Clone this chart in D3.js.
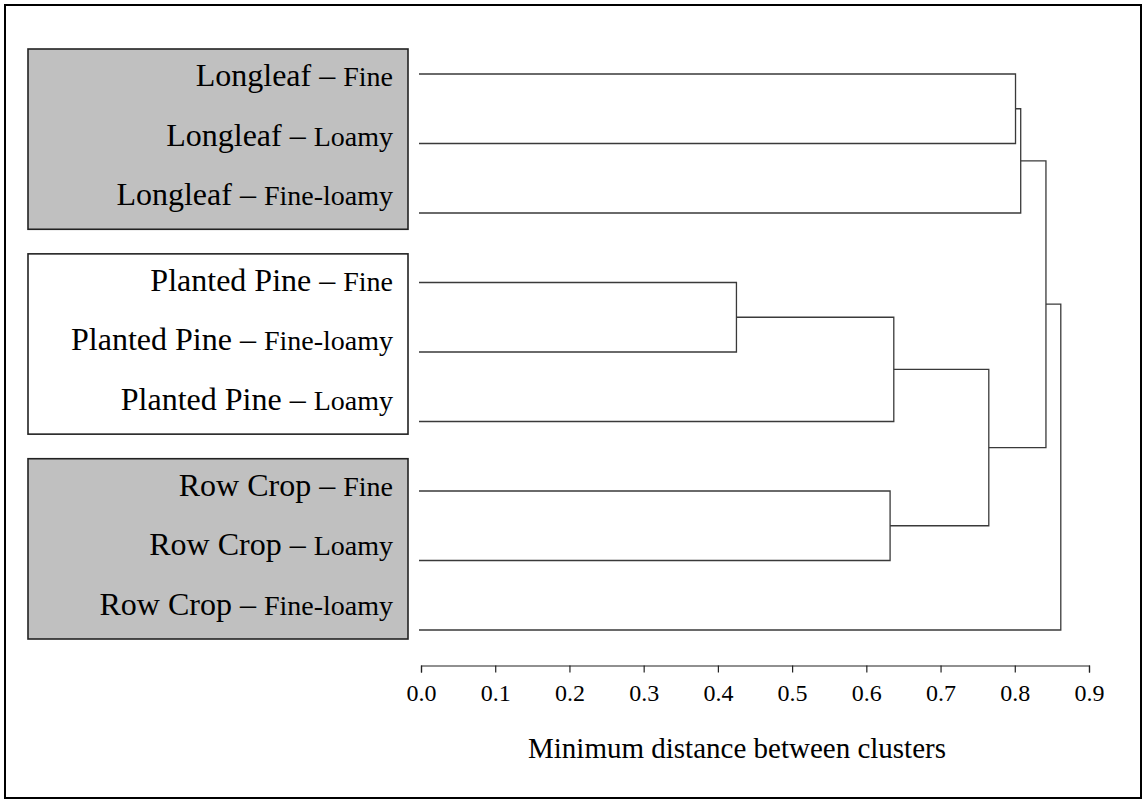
<!DOCTYPE html>
<html>
<head>
<meta charset="utf-8">
<script src="https://cdn.jsdelivr.net/npm/d3@7"></script>
<style>
	body { margin: 0; background: #fff; }
	text { font-family: "Liberation Serif", "Times New Roman", serif; fill: #000; }
</style>
</head>
<body>
<svg id="chart" width="1146" height="803"></svg>
<script>

// leaves, top to bottom
var leafLandUse = ["Longleaf", "Longleaf", "Longleaf",
	"Planted Pine", "Planted Pine", "Planted Pine",
	"Row Crop", "Row Crop", "Row Crop"];
var leafSoil = ["Fine", "Loamy", "Fine-loamy",
	"Fine", "Fine-loamy", "Loamy",
	"Fine", "Loamy", "Fine-loamy"];

// merges: node ids 0-8 are leaves, merge i gets id 9 + i
var mergeA = [0, 9, 3, 11, 6, 12, 10, 15];
var mergeB = [1, 2, 4, 5, 7, 13, 14, 8];
var mergeHeight = [0.801, 0.808, 0.425, 0.637, 0.632, 0.765, 0.842, 0.862];

var groups = ["Longleaf", "Planted Pine", "Row Crop"];
var groupShaded = [true, false, true];

var tickValues = [0, 0.1, 0.2, 0.3, 0.4, 0.5, 0.6, 0.7, 0.8, 0.9];
var axisTitle = "Minimum distance between clusters";

function makeChart() {
	var svg = d3.select("#chart");

	var x = d3.scaleLinear().domain([0, 0.9]).range([421, 1089]);
	var y = d3.scalePoint().domain(d3.range(leafSoil.length)).range([74, 630]);
	var box = d3.scaleBand().domain(groups).range([49, 639]).paddingInner(0.12);

	// outer frame
	svg.append("rect")
		.attr("x", 5).attr("y", 5)
		.attr("width", 1136).attr("height", 793)
		.attr("fill", "none").attr("stroke", "#000").attr("stroke-width", 2);

	// group boxes
	svg.selectAll("rect.group")
		.data(groups).enter()
		.append("rect").attr("class", "group")
		.attr("x", 28).attr("y", d => box(d))
		.attr("width", 380).attr("height", box.bandwidth())
		.attr("fill", (d, i) => groupShaded[i] ? "#c0c0c0" : "#fff")
		.attr("stroke", "#222").attr("stroke-width", 1.6);

	// labels
	var labels = svg.selectAll("text.leaf")
		.data(leafSoil).enter()
		.append("text").attr("class", "leaf")
		.attr("x", 393)
		.attr("y", (d, i) => {
			var g = groups.indexOf(leafLandUse[i]);
			var first = leafLandUse.indexOf(leafLandUse[i]);
			return box(groups[g]) + 37 + (i - first) * 59.5;
		})
		.attr("text-anchor", "end")
		.style("font-size", "32px")
		.text((d, i) => leafLandUse[i] + " \u2013 ");
	labels.append("tspan")
		.style("font-size", "28px")
		.text(d => d);

	// dendrogram
	var nodeX = [], nodeY = [];
	leafSoil.forEach((d, i) => {
		nodeX.push(x(0) - 2);
		nodeY.push(y(i));
	});
	var links = [];
	mergeHeight.forEach((h, i) => {
		var a = mergeA[i], b = mergeB[i], xm = x(h);
		links.push("M" + nodeX[a] + "," + nodeY[a] + "H" + xm + "V" + nodeY[b] + "H" + nodeX[b]);
		nodeX.push(xm);
		nodeY.push((nodeY[a] + nodeY[b]) / 2);
	});
	svg.selectAll("path.link")
		.data(links).enter()
		.append("path").attr("class", "link")
		.attr("d", d => d)
		.attr("fill", "none").attr("stroke", "#3a3a3a").attr("stroke-width", 1.3);

	// axis
	var axis = d3.axisBottom(x).tickValues(tickValues).tickFormat(d3.format(".1f"))
		.tickSize(7).tickSizeOuter(7);
	var ga = svg.append("g").attr("transform", "translate(0,665.5)").call(axis);
	ga.select(".domain").attr("stroke", "#222").attr("stroke-width", 1.2);
	ga.selectAll(".tick line").attr("stroke", "#222").attr("stroke-width", 1.2)
		.attr("y2", 7);
	ga.selectAll(".tick text")
		.attr("y", 0).attr("dy", 0)
		.attr("transform", "translate(0,35)")
		.style("font-family", "Liberation Serif, serif")
		.style("font-size", "24px").attr("fill", "#000");

	svg.append("text")
		.attr("x", x(0.45) - 18).attr("y", 758)
		.attr("text-anchor", "middle")
		.style("font-size", "29px")
		.text(axisTitle);
}

window.addEventListener("DOMContentLoaded", makeChart);
</script>
</body>
</html>
